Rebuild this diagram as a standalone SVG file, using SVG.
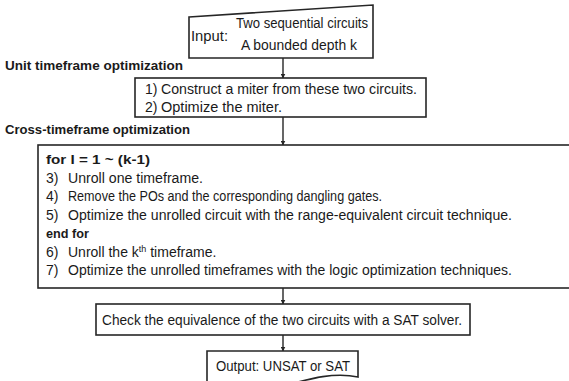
<svg xmlns="http://www.w3.org/2000/svg" width="569" height="381" viewBox="0 0 569 381">
  <style>
    .box { fill: #ffffff; stroke: #262626; stroke-width: 1.6; }
    .edge { fill: none; stroke: #262626; stroke-width: 1.4; marker-end: url(#arrow); }
    text { font-family: "Liberation Sans", Arial, sans-serif; font-size: 14px; fill: #1a1a1a; }
    .b { font-weight: bold; font-size: 13.5px; }
    .sup { font-size: 9px; }
  </style>
  <defs>
    <marker id="arrow" viewBox="0 0 10 10" refX="9" refY="5" markerWidth="5" markerHeight="5" orient="auto" markerUnits="userSpaceOnUse">
      <path d="M0,0 L10,5 L0,10 Z" fill="#262626"/>
    </marker>
  </defs>
  <rect width="569" height="381" fill="#ffffff"/>

  <!-- connectors -->
  <g id="connectors">
    <line class="edge" x1="283" y1="58" x2="283" y2="78"/>
    <line class="edge" x1="283" y1="117" x2="283" y2="145"/>
    <line class="edge" x1="283" y1="288" x2="283" y2="304"/>
    <line class="edge" x1="283" y1="335" x2="283" y2="351"/>
  </g>

  <!-- section headings -->
  <g id="headings">
    <text class="b" x="5" y="70" textLength="178" lengthAdjust="spacingAndGlyphs">Unit timeframe optimization</text>
    <text class="b" x="5" y="134" textLength="185" lengthAdjust="spacingAndGlyphs">Cross-timeframe optimization</text>
  </g>

  <!-- input: manual-input shape -->
  <g id="input">
    <path class="box" d="M189,17 L373,5 L373,58 L189,58 Z"/>
    <text x="191" y="41" textLength="37" lengthAdjust="spacingAndGlyphs">Input:</text>
    <text x="236" y="28" textLength="132" lengthAdjust="spacingAndGlyphs">Two sequential circuits</text>
    <text x="241" y="50" textLength="116" lengthAdjust="spacingAndGlyphs">A bounded depth k</text>
  </g>

  <!-- unit timeframe optimization -->
  <g id="unit-step">
    <rect class="box" x="135" y="78" width="291" height="39"/>
    <text x="145" y="94">1)</text>
    <text x="161" y="94" textLength="256" lengthAdjust="spacingAndGlyphs">Construct a miter from these two circuits.</text>
    <text x="145" y="112">2)</text>
    <text x="161" y="112" textLength="121" lengthAdjust="spacingAndGlyphs">Optimize the miter.</text>
  </g>

  <!-- cross-timeframe optimization -->
  <g id="cross-step">
    <rect class="box" x="38" y="145" width="540" height="143"/>
    <text class="b" x="46" y="164" textLength="104" lengthAdjust="spacingAndGlyphs">for I = 1 ~ (k-1)</text>
    <text x="46" y="183">3)</text>
    <text x="68" y="183" textLength="135" lengthAdjust="spacingAndGlyphs">Unroll one timeframe.</text>
    <text x="46" y="201">4)</text>
    <text x="68" y="201" textLength="314" lengthAdjust="spacingAndGlyphs">Remove the POs and the corresponding dangling gates.</text>
    <text x="46" y="220">5)</text>
    <text x="68" y="220" textLength="444" lengthAdjust="spacingAndGlyphs">Optimize the unrolled circuit with the range-equivalent circuit technique.</text>
    <text class="b" x="46" y="238" textLength="43" lengthAdjust="spacingAndGlyphs">end for</text>
    <text x="46" y="257">6)</text>
    <text x="68" y="257">Unroll the k<tspan class="sup" dy="-5">th</tspan><tspan dy="5"> timeframe.</tspan></text>
    <text x="46" y="275">7)</text>
    <text x="68" y="275" textLength="444" lengthAdjust="spacingAndGlyphs">Optimize the unrolled timeframes with the logic optimization techniques.</text>
  </g>

  <!-- equivalence check -->
  <g id="sat-check">
    <rect class="box" x="96" y="304" width="374" height="31"/>
    <text x="102" y="325" textLength="360" lengthAdjust="spacingAndGlyphs">Check the equivalence of the two circuits with a SAT solver.</text>
  </g>

  <!-- output: document shape -->
  <g id="output">
    <path class="box" d="M207,351 H358 V377 C335,372 312,378 283,386 C255,394 230,392 207,387 Z"/>
    <text x="216" y="371" textLength="134" lengthAdjust="spacingAndGlyphs">Output: UNSAT or SAT</text>
  </g>
</svg>
